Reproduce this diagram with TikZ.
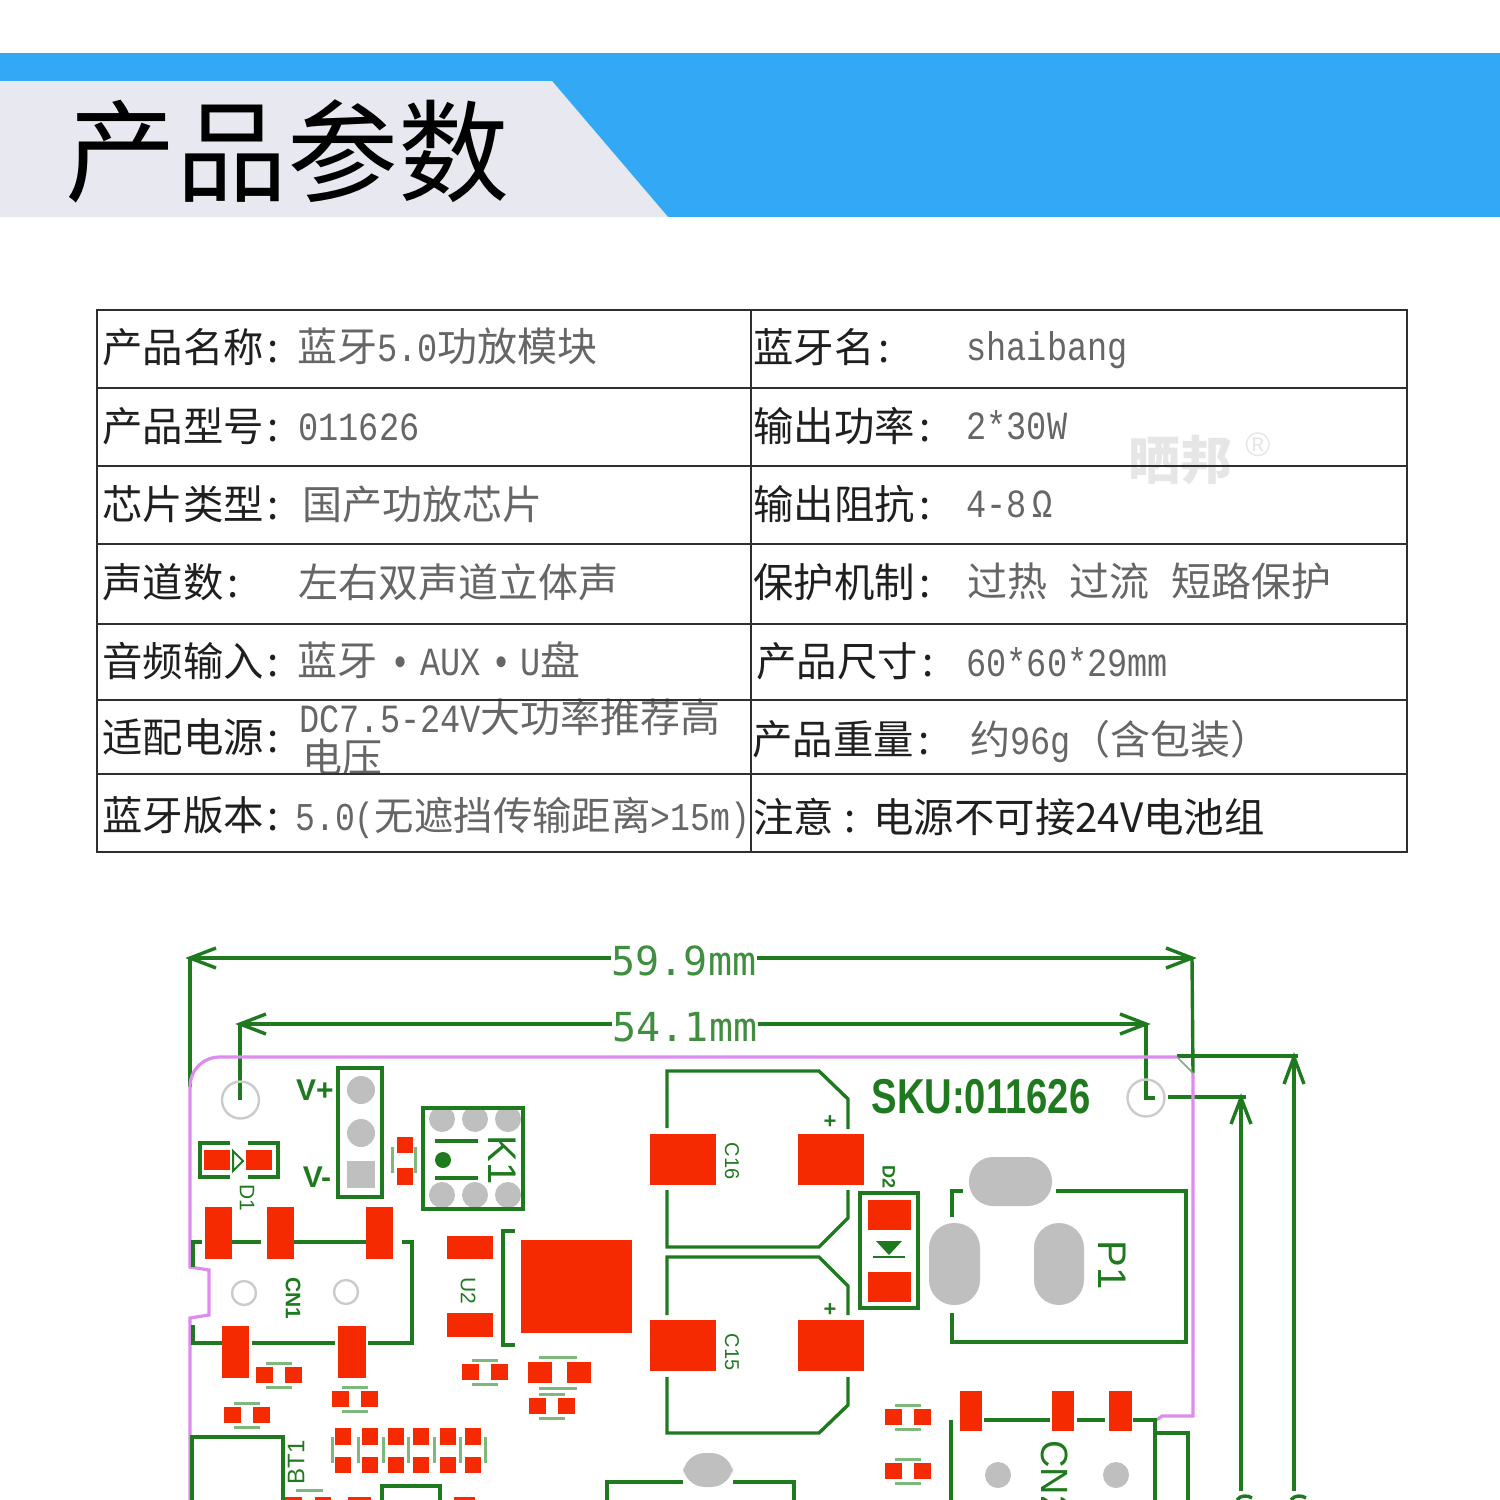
\documentclass[tikz,border=0pt]{standalone}
\usepackage{fontspec}
\setmainfont{Noto Sans CJK SC}
\newfontfamily\mn[FakeStretch=0.84]{Liberation Mono}
\newfontfamily\dimfont{DejaVu Sans Mono}
\newfontfamily\ls{Liberation Sans}
\definecolor{bandblue}{HTML}{33A9F5}
\definecolor{paleband}{HTML}{E8E8F0}
\definecolor{pcbgreen}{HTML}{1F7A1F}
\definecolor{softgreen}{HTML}{7DB87D}
\definecolor{padred}{HTML}{F52A00}
\definecolor{padgrey}{HTML}{BFBFBF}
\definecolor{holegrey}{HTML}{CBCBCB}
\definecolor{outline}{HTML}{DD8CEE}
\definecolor{rule}{HTML}{2E2E2E}
\definecolor{valgrey}{HTML}{666666}
\definecolor{mark}{HTML}{E6E6E6}
\newcommand\pd[4]{\fill[padred] (#1,#2) rectangle (#3,#4);}
\newcommand\cl{\hspace{2pt}:}
\newcommand\capH[2]{%
  \fill[padred] (#1-23,#2-8) rectangle (#1-6,#2+8);
  \fill[padred] (#1+6,#2-8) rectangle (#1+23,#2+8);
  \draw[softline] (#1-13,#2-12) -- (#1+13,#2-12);
  \draw[softline] (#1-13,#2+12) -- (#1+13,#2+12);}
\newcommand\capV[1]{%
  \fill[padred] (#1-8,1428) rectangle (#1+8,1445);
  \fill[padred] (#1-8,1457) rectangle (#1+8,1473);}
\tikzset{
  softline/.style={softgreen,line width=1.5pt},
  trace/.style={pcbgreen,line width=1.7pt,line join=miter},
  dimline/.style={pcbgreen,line width=1.7pt},
  edgeline/.style={outline,line width=1.6pt},
  tabrule/.style={rule,line width=1.1pt},
  labeltext/.style={anchor=base west,inner sep=0pt,text=black!88,font=\fontsize{20.2pt}{20pt}\selectfont},
  valuetext/.style={anchor=base west,inner sep=0pt,text=valgrey,font=\fontsize{20pt}{20pt}\selectfont},
  silk/.style={inner sep=0pt,text=pcbgreen,rotate=-90},
}
\begin{document}
\begin{tikzpicture}[x=0.5pt,y=-0.5pt]
\useasboundingbox (0,0) rectangle (1500,1500);
\clip (0,0) rectangle (1500,1500);
% header
\fill[bandblue] (0,53) rectangle (1500,217);
\fill[paleband] (0,81) -- (552,81) -- (668,217) -- (0,217) -- cycle;
\node[anchor=base west,inner sep=0pt,text=black,font=\fontsize{55.5pt}{56pt}\selectfont] (title) at (65,193) {产品参数};
% watermark
\node[anchor=base west,inner sep=0pt,text=mark,font=\fontsize{26pt}{26pt}\selectfont\bfseries] (wm) at (1128,479) {晒邦};
\node[inner sep=0pt,text=mark,font=\ls\fontsize{17pt}{17pt}\selectfont] (wmr) at (1258,445) {®};
% table texts
\node[labeltext] (a1) at (102,362) {产品名称\cl};
\node[labeltext] (a2) at (102,441) {产品型号\cl};
\node[labeltext] (a3) at (102,519) {芯片类型\cl};
\node[labeltext] (a4) at (102,597) {声道数\cl};
\node[labeltext] (a5) at (102,676) {音频输入\cl};
\node[labeltext] (a6) at (102,752) {适配电源\cl};
\node[labeltext] (a7) at (102,830) {蓝牙版本\cl};
\node[valuetext] (b1) at (297,361) {蓝牙{\mn 5.0}功放模块};
\node[valuetext] (b2) at (298,440) {\mn 011626};
\node[valuetext] (b3) at (302,519) {国产功放芯片};
\node[valuetext] (b4) at (298,597) {左右双声道立体声};
\node[valuetext] (b5) at (297,675) {蓝牙{\mn\hspace{6.5pt}•\hspace{5pt}AUX\hspace{5pt}•\hspace{4.5pt}U}盘};
\node[valuetext] (b6) at (299,732) {{\mn DC7.5-24V}大功率推荐高};
\node[valuetext] (b6b) at (302,772) {电压};
\node[valuetext,font=\fontsize{19.7pt}{20pt}\selectfont] (b7) at (295,830) {{\mn 5.0(}无遮挡传输距离{\mn >15m)}};
\node[labeltext] (c1) at (753,362) {蓝牙名\cl};
\node[labeltext] (c2) at (753,441) {输出功率\cl};
\node[labeltext] (c3) at (753,519) {输出阻抗\cl};
\node[labeltext] (c4) at (753,597) {保护机制\cl};
\node[labeltext] (c5) at (756,676) {产品尺寸\cl};
\node[labeltext] (c6) at (752,754) {产品重量\cl};
\node[labeltext] (c7) at (753,832) {注意\hspace{5pt}:};
\node[labeltext] (c7b) at (873,832) {电源不可接24V电池组};
\node[valuetext] (d1) at (966,360) {\mn shaibang};
\node[valuetext] (d2) at (966,439) {\mn 2*30W};
\node[valuetext] (d3) at (966,517) {\mn 4-8\hspace{3pt}Ω};
\node[valuetext] (d4) at (967,596) {过热\hspace{11pt}过流\hspace{11pt}短路保护};
\node[valuetext] (d5) at (966,676) {\mn 60*60*29mm};
\node[valuetext] (d6) at (970,754) {约{\mn 96g}（含包装）};
% table rules
\draw[tabrule] (97,310) rectangle (1407,852);
\foreach \yy in {388,466,544,624,700,774} \draw[tabrule] (97,\yy) -- (1407,\yy);
\draw[tabrule] (751,310) -- (751,852);
% dimensions
\node[inner sep=0pt,text=pcbgreen!85!white,font=\dimfont\fontsize{20pt}{20pt}\selectfont] (dimA) at (684,961) {59.9mm};
\node[inner sep=0pt,text=pcbgreen!85!white,font=\dimfont\fontsize{20pt}{20pt}\selectfont] (dimB) at (685,1027) {54.1mm};
\coordinate (aL) at (190,958); \coordinate (aR) at (1192,958);
\coordinate (bL) at (240,1024); \coordinate (bR) at (1146,1024);
\draw[dimline] (aL) -- (dimA.west |- aL); \draw[dimline] (dimA.east |- aL) -- (aR);
\draw[dimline] (bL) -- (dimB.west |- bL); \draw[dimline] (dimB.east |- bL) -- (bR);
\draw[dimline] (216,948) -- (aL) -- (216,968);
\draw[dimline] (1166,948) -- (aR) -- (1166,968);
\draw[dimline] (266,1014) -- (bL) -- (266,1034);
\draw[dimline] (1120,1014) -- (bR) -- (1120,1034);
\draw[dimline] (aL) -- (190,1087);
\draw[dimline] (aR) -- (1193,1073);
\draw[dimline] (bL) -- (240,1100);
\draw[dimline] (bR) -- (1146,1098) -- (1155,1098);
\draw[dimline] (1168,1097) -- (1246,1097);
\draw[dimline] (1177,1056) -- (1298,1056);
\draw[dimline] (1241,1097) -- (1241,1491);
\draw[dimline] (1294,1056) -- (1294,1491);
\draw[dimline] (1231,1124) -- (1241,1098) -- (1251,1124);
\draw[dimline] (1284,1084) -- (1294,1057) -- (1304,1084);
\draw[dimline] (1237,1500) .. controls (1240,1495) and (1248,1495) .. (1252,1498);
\draw[dimline] (1291,1500) .. controls (1294,1495) and (1302,1495) .. (1306,1498);
% board outline
\draw[edgeline] (190,1500) -- (190,1318) -- (209,1315) -- (209,1270) -- (190,1267) -- (190,1087)
  .. controls (190,1070) and (203,1057) .. (220,1057) -- (1177,1057);
\draw[edgeline] (1193,1073) -- (1193,1416) -- (1162,1416) -- (1155,1421);
\draw[pcbgreen!60!white,line width=0.8pt] (1177,1057) -- (1193,1073);
% mounting holes
\draw[holegrey,line width=1.2pt] (240.5,1100) circle[radius=18.5];
\draw[holegrey,line width=1.2pt] (1146,1098) circle[radius=18.5];
% header V+/V-
\draw[trace] (338,1068) rectangle (382,1197);
\fill[padgrey] (361,1090) circle[radius=14] (361,1133) circle[radius=14];
\fill[padgrey] (347,1161) rectangle (375,1188);
\node[inner sep=0pt,text=pcbgreen,font=\ls\bfseries\fontsize{15pt}{15pt}\selectfont] (vp) at (315,1090) {V+};
\node[inner sep=0pt,text=pcbgreen,font=\ls\bfseries\fontsize{15pt}{15pt}\selectfont] (vm) at (317,1177) {V-};
% small part next to K1
\pd{397}{1137}{413}{1153}
\pd{397}{1168}{413}{1185}
\draw[softline] (392,1147) -- (392,1173) (415,1147) -- (415,1173);
% K1
\begin{scope}
\clip (423,1108) rectangle (523,1209);
\foreach \xx in {442,475,508} {\fill[padgrey] (\xx,1119) circle[radius=13]; \fill[padgrey] (\xx,1195) circle[radius=13];}
\end{scope}
\draw[trace] (423,1108) rectangle (523,1209);
\draw[trace] (435,1141) -- (478,1141) (435,1178) -- (478,1178);
\fill[pcbgreen] (443,1160) circle[radius=8];
\node[silk,font=\ls\fontsize{20pt}{20pt}\selectfont] (k1) at (502,1160) {K1};
% D1
\draw[trace] (230,1143) -- (200,1143) -- (200,1177) -- (230,1177);
\draw[trace] (248,1143) -- (278,1143) -- (278,1177) -- (248,1177);
\pd{204}{1150}{230}{1170}
\pd{246}{1150}{272}{1170}
\draw[pcbgreen,line width=1pt] (233,1151) -- (243,1161) -- (233,1171) -- cycle;
\node[silk,font=\ls\fontsize{10.5pt}{11pt}\selectfont] (d1t) at (247,1198) {D1};
% CN1
\draw[trace] (202,1242) -- (193,1242) -- (193,1267);
\draw[trace] (232,1242) -- (261,1242);
\draw[trace] (294,1242) -- (366,1242);
\draw[trace] (402,1242) -- (412,1242) -- (412,1343) -- (368,1343);
\draw[trace] (252,1343) -- (335,1343);
\draw[trace] (222,1343) -- (193,1343) -- (193,1325);
\pd{205}{1207}{232}{1259}
\pd{267}{1207}{294}{1259}
\pd{366}{1207}{393}{1259}
\pd{222}{1326}{249}{1378}
\pd{338}{1326}{366}{1378}
\draw[holegrey,line width=1.2pt] (244,1293) circle[radius=12] (346,1292) circle[radius=12];
\node[silk,font=\ls\bfseries\fontsize{10.5pt}{11pt}\selectfont] (cn1) at (293,1298) {CN1};
% U2
\pd{447}{1236}{493}{1259}
\pd{447}{1313}{493}{1337}
\pd{521}{1240}{632}{1333}
\draw[trace] (515,1231) -- (503,1231) -- (503,1345) -- (515,1345);
\node[silk,font=\ls\fontsize{10.5pt}{11pt}\selectfont] (u2) at (468,1291) {U2};
% small capacitors
\capH{279}{1375}
\capH{355}{1399}
\capH{247}{1415}
\capH{485}{1372}
\capH{552}{1406}
\capH{908}{1417}
\capH{908}{1471}
\pd{528}{1362}{552}{1383}
\pd{567}{1362}{591}{1383}
\draw[softline] (539,1357) -- (577,1357) (539,1388) -- (577,1388);
% resistor row
\foreach \xx in {343,370,396,421,448,473} {\capV{\xx}}
\foreach \xx in {332,358,383,408,434,460,485} \draw[softline] (\xx,1437) -- (\xx,1463);
% BT1 area
\draw[trace] (192,1500) -- (192,1437) -- (283,1437) -- (283,1500);
\node[inner sep=0pt,text=pcbgreen,rotate=90,font=\ls\fontsize{12pt}{12pt}\selectfont] (bt1) at (296,1462) {BT1};
\pd{285}{1497}{302}{1500}
\pd{315}{1497}{331}{1500}
\draw[softline] (296,1490) -- (323,1490);
\pd{348}{1497}{371}{1500}
\pd{454}{1497}{475}{1500}
\draw[trace] (382,1500) -- (382,1486) -- (440,1486) -- (440,1500);
% C16
\draw[trace] (667,1128) -- (667,1071) -- (819,1071) -- (848,1099) -- (848,1129);
\draw[trace] (667,1190) -- (667,1247) -- (819,1247) -- (848,1218) -- (848,1190);
\pd{650}{1134}{716}{1185}
\pd{798}{1134}{864}{1185}
\node[inner sep=0pt,text=pcbgreen,font=\ls\bfseries\fontsize{11pt}{11pt}\selectfont] (p16) at (830,1122) {+};
\node[silk,font=\ls\fontsize{10pt}{10pt}\selectfont] (c16) at (732,1161) {C16};
% C15
\draw[trace] (667,1315) -- (667,1257) -- (819,1257) -- (848,1286) -- (848,1315);
\draw[trace] (667,1377) -- (667,1433) -- (819,1433) -- (848,1405) -- (848,1377);
\pd{650}{1320}{716}{1371}
\pd{798}{1320}{864}{1371}
\node[inner sep=0pt,text=pcbgreen,font=\ls\bfseries\fontsize{11pt}{11pt}\selectfont] (p15) at (830,1310) {+};
\node[silk,font=\ls\fontsize{10pt}{10pt}\selectfont] (c15) at (732,1352) {C15};
% D2
\draw[trace] (860,1193) rectangle (918,1308);
\pd{868}{1200}{911}{1230}
\pd{868}{1272}{911}{1302}
\fill[pcbgreen] (876,1241) -- (902,1241) -- (889,1255) -- cycle;
\draw[pcbgreen,line width=1.4pt] (873,1257) -- (905,1257);
\node[silk,font=\ls\bfseries\fontsize{9pt}{9pt}\selectfont] (d2t) at (889,1177) {D2};
% SKU
\node[inner sep=0pt,text=pcbgreen,font=\ls\bfseries\fontsize{24.5pt}{25pt}\selectfont] (sku) at (981,1097) {\scalebox{0.78}[1]{SKU:011626}};
% P1
\draw[trace] (963,1191) -- (952,1191) -- (952,1217);
\draw[trace] (1056,1191) -- (1186,1191) -- (1186,1342) -- (952,1342) -- (952,1313);
\fill[padgrey,rounded corners=12pt] (969,1157) rectangle (1052,1206);
\fill[padgrey,rounded corners=12.5pt] (929,1223) rectangle (980,1305);
\fill[padgrey,rounded corners=12.5pt] (1034,1223) rectangle (1084,1305);
\node[silk,font=\ls\fontsize{20pt}{20pt}\selectfont] (p1) at (1112,1265) {P1};
% CN2
\pd{960}{1391}{982}{1431}
\pd{1052}{1391}{1074}{1431}
\pd{1109}{1391}{1132}{1431}
\draw[trace] (984,1420) -- (1050,1420) (1077,1420) -- (1105,1420) (1133,1420) -- (1155,1420) -- (1155,1500);
\draw[trace] (951,1420) -- (951,1500);
\draw[trace] (1155,1433) -- (1188,1433) -- (1188,1500);
\fill[padgrey] (998,1475) circle[radius=13] (1116,1475) circle[radius=13];
\node[silk,anchor=west,font=\ls\fontsize{19pt}{19pt}\selectfont] (cn2) at (1055,1440) {CN2};
% bottom connector
\draw[trace] (607,1500) -- (607,1482) -- (683,1482);
\draw[trace] (733,1482) -- (794,1482) -- (794,1500);
\fill[padgrey,rounded corners=11pt] (683,1453) rectangle (733,1487);
\end{tikzpicture}
\end{document}
